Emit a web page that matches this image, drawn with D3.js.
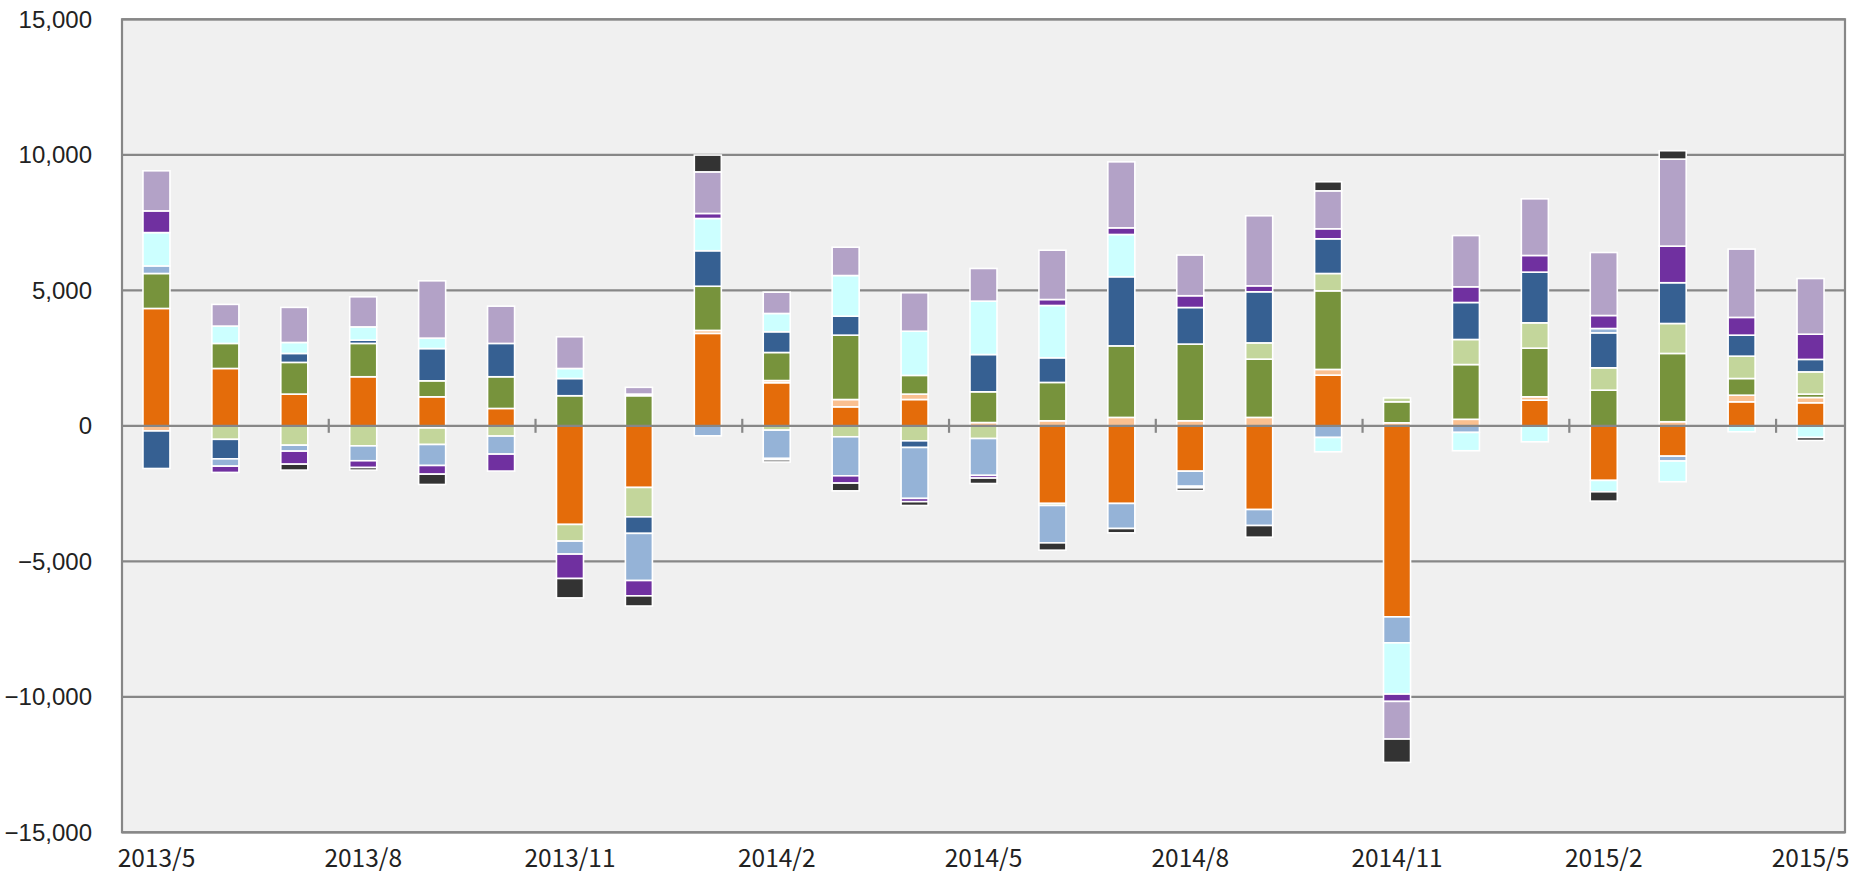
<!DOCTYPE html>
<html>
<head>
<meta charset="utf-8">
<script src="https://cdn.jsdelivr.net/npm/d3@7"></script>
<style>
  html, body { margin: 0; padding: 0; background: #ffffff; }
  svg { display: block; }
</style>
</head>
<body>
<svg id="chart" width="1854" height="874"></svg>
<script>
// ---- data ----
const categories = ["2013/5","2013/6","2013/7","2013/8","2013/9","2013/10","2013/11","2013/12",
  "2014/1","2014/2","2014/3","2014/4","2014/5","2014/6","2014/7","2014/8","2014/9","2014/10",
  "2014/11","2014/12","2015/1","2015/2","2015/3","2015/4","2015/5"];

const seriesKeys = ["s1","s2","s3","s4","s5","s6","s7","s8","s9","s10"];
const seriesColors = ["#E46C0A","#FAC090","#77933C","#C3D69B","#366092","#95B3D7","#CCFFFF","#7030A0","#B3A2C7","#333333"];

const s1  = [4330,2115,1170,1810,1070,640,-3640,-2275,3410,1590,700,970,0,-2865,-2865,-1675,-3090,1870,-7050,0,945,-2015,-1120,885,850];
const s2  = [-190,0,0,0,-80,0,0,0,110,80,270,200,120,185,310,185,310,210,110,240,125,0,150,245,195];
const s3  = [1290,925,1170,1230,590,1170,1110,1110,1630,1035,2375,690,1135,1415,2640,2830,2150,2900,775,2020,1795,1315,2520,615,125];
const s4  = [0,-500,-715,-740,-610,-380,-615,-1085,0,-160,-405,-555,-470,-75,0,0,600,640,145,925,935,825,1105,825,820];
const s5  = [-1385,-720,330,120,1190,1230,635,-610,1310,765,700,-245,1375,910,2550,1350,1885,1280,0,1365,1870,1290,1505,775,460];
const s6  = [280,-270,-220,-550,-775,-665,-480,-1740,-370,-1045,-1440,-1880,-1360,-1380,-925,-555,-590,-430,-960,-245,0,160,-180,0,0];
const s7  = [1230,640,405,490,385,0,370,60,1190,675,1500,1630,1970,1930,1560,-60,0,-530,-1890,-675,-590,-420,-765,-220,-430];
const s8  = [800,-230,-480,-250,-320,-625,-900,-565,185,-50,-270,-120,-100,220,245,435,220,370,-270,580,615,480,1350,655,930];
const s9  = [1480,800,1295,1110,2115,1375,1170,250,1535,785,1045,1420,1205,1820,2435,1500,2585,1400,-1390,1890,2090,2325,3210,2520,2055];
const s10 = [0,0,-220,-95,-380,0,-715,-375,620,-80,-285,-140,-200,-270,-160,-100,-430,335,-860,0,0,-345,310,0,-110];

const yTicks = [-15000,-10000,-5000,0,5000,10000,15000];
const xLabelEvery = 3;

// ---- build table ----
const seriesValues = [s1,s2,s3,s4,s5,s6,s7,s8,s9,s10];
const table = categories.map((c, i) => {
  const row = { cat: c };
  seriesKeys.forEach((k, j) => { row[k] = seriesValues[j][i]; });
  return row;
});

// ---- layout ----
const svg = d3.select("#chart");
const plotL = 122, plotR = 1845, plotT = 19.3, plotB = 832.3;
const gridColor = "#878787";

const x = d3.scaleBand().domain(categories).range([plotL, plotR]).paddingInner(0.608).paddingOuter(0.304);
const y = d3.scaleLinear().domain([-15000, 15000]).range([plotB, plotT]);

// plot background
svg.append("rect").attr("x", plotL).attr("y", plotT).attr("width", plotR - plotL).attr("height", plotB - plotT)
  .attr("fill", "#F0F0F0");

// gridlines (non-zero)
svg.append("g").selectAll("line").data(yTicks.filter(v => v !== 0)).join("line")
  .attr("x1", plotL).attr("x2", plotR)
  .attr("y1", d => y(d)).attr("y2", d => y(d))
  .attr("stroke", gridColor).attr("stroke-width", 2.2);

// border
svg.append("rect").attr("x", plotL).attr("y", plotT).attr("width", plotR - plotL).attr("height", plotB - plotT)
  .attr("fill", "none").attr("stroke", gridColor).attr("stroke-width", 2.2);

// stacked bars
const stack = d3.stack().keys(seriesKeys).offset(d3.stackOffsetDiverging);
const stacked = stack(table);

svg.append("g").selectAll("g").data(stacked).join("g")
  .attr("fill", (d, i) => seriesColors[i])
  .selectAll("rect").data(d => d.filter(p => p[1] - p[0] !== 0)).join("rect")
  .attr("x", d => x(d.data.cat))
  .attr("width", x.bandwidth())
  .attr("y", d => y(Math.max(d[0], d[1])))
  .attr("height", d => Math.abs(y(d[0]) - y(d[1])))
  .attr("stroke", "#ffffff").attr("stroke-width", 1.6);

// zero line
svg.append("line").attr("x1", plotL).attr("x2", plotR).attr("y1", y(0)).attr("y2", y(0))
  .attr("stroke", gridColor).attr("stroke-width", 2.2);

// x ticks on zero line at band boundaries every 3
const tickIdx = d3.range(xLabelEvery, categories.length, xLabelEvery);
svg.append("g").selectAll("line").data(tickIdx).join("line")
  .attr("x1", i => plotL + i * x.step()).attr("x2", i => plotL + i * x.step())
  .attr("y1", y(0) - 7).attr("y2", y(0) + 7)
  .attr("stroke", gridColor).attr("stroke-width", 2.2);

// y labels
const fmt = d3.format(",");
svg.append("g").selectAll("text").data(yTicks).join("text")
  .attr("x", 92).attr("y", d => y(d))
  .attr("dy", "0.35em")
  .attr("text-anchor", "end")
  .attr("font-family", "'Liberation Sans', Arial, sans-serif")
  .attr("font-size", 24)
  .attr("fill", "#222")
  .text(d => fmt(d));

// x labels
const labelCats = categories.filter((c, i) => i % xLabelEvery === 0);
svg.append("g").selectAll("text").data(labelCats).join("text")
  .attr("x", c => x(c) + x.bandwidth() / 2)
  .attr("y", 866.5)
  .attr("text-anchor", "middle")
  .attr("font-family", "'Noto Sans CJK JP', sans-serif")
  .attr("font-size", 24.5)
  .attr("fill", "#222")
  .text(c => c);
</script>
</body>
</html>
